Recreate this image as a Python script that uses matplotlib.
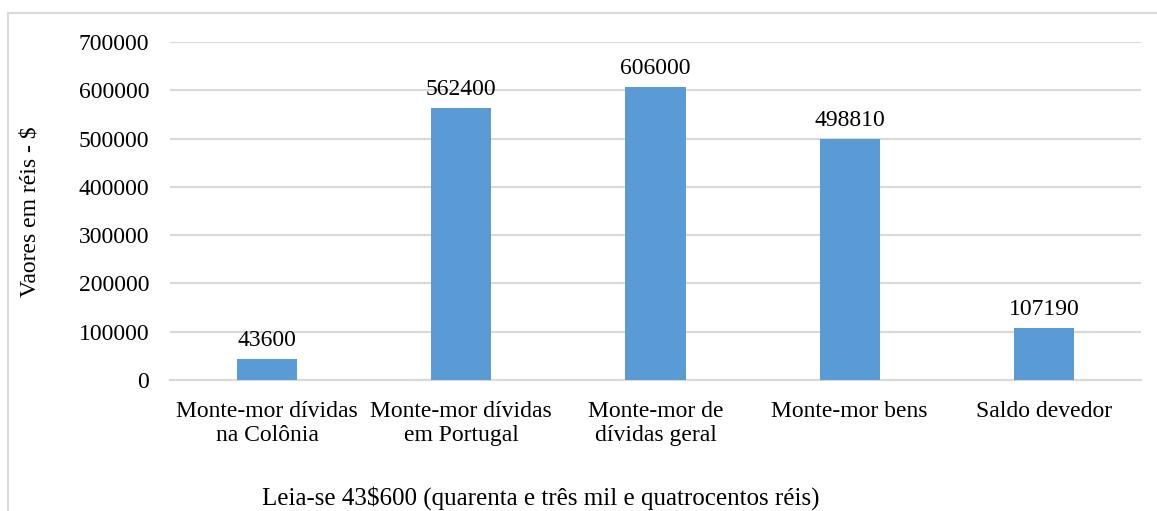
import matplotlib
matplotlib.use("Agg")
import matplotlib.pyplot as plt
from matplotlib.patches import Rectangle

plt.rcParams['font.family'] = ['Liberation Serif', 'DejaVu Serif']

categories = [
    "Monte-mor dívidas\nna Colônia",
    "Monte-mor dívidas\nem Portugal",
    "Monte-mor de\ndívidas geral",
    "Monte-mor bens",
    "Saldo devedor",
]
values = [43600, 562400, 606000, 498810, 107190]
yticks = [0, 100000, 200000, 300000, 400000, 500000, 600000, 700000]
ylabel = "Vaores em réis - $"
footnote = "Leia-se 43$600 (quarenta e três mil e quatrocentos réis)"

bar_color = "#5b9bd5"
grid_color = "#d9d9d9"
fs = 17

fig = plt.figure(figsize=(11.57, 5.11), dpi=100)
fig.patch.set_facecolor("white")

# outer chart frame (runs off the right and bottom edges)
frame = Rectangle((8 / 1157, -0.05), 1.2, 1 - 13 / 511 + 0.05,
                  transform=fig.transFigure, fill=False,
                  edgecolor=grid_color, linewidth=1.5, clip_on=False)
fig.add_artist(frame)

ax = fig.add_axes([170 / 1157, 1 - 380 / 511, (1141 - 170) / 1157, (380 - 42) / 511])
x = range(len(categories))
bars = ax.bar(x, values, width=0.31, color=bar_color, zorder=3)

ax.set_xlim(-0.5, len(categories) - 0.5)
ax.set_ylim(0, 700000)
ax.set_yticks(yticks)
ax.set_yticklabels([str(v) for v in yticks], fontsize=fs)
ax.set_xticks(list(x))
ax.set_xticklabels(categories, fontsize=fs, linespacing=1.22)
ax.tick_params(axis='both', length=0)
ax.tick_params(axis='y', pad=15)
ax.tick_params(axis='x', pad=15)

ax.grid(axis='y', color=grid_color, linewidth=1.5, zorder=0)
for side in ["top", "right", "left"]:
    ax.spines[side].set_visible(False)
ax.spines["bottom"].set_color(grid_color)
ax.spines["bottom"].set_linewidth(1.5)

for b, v in zip(bars, values):
    ax.annotate(str(v), (b.get_x() + b.get_width() / 2, v),
                xytext=(0, 6), textcoords="offset points",
                ha="center", va="bottom", fontsize=fs)

fig.text(30 / 1157, 1 - 212 / 511, ylabel, rotation=90, fontsize=fs,
         ha="center", va="center")
fig.text(541 / 1157, 1 - 498 / 511, footnote, fontsize=18,
         ha="center", va="center")

fig.savefig("out.png", dpi=100, facecolor="white")
